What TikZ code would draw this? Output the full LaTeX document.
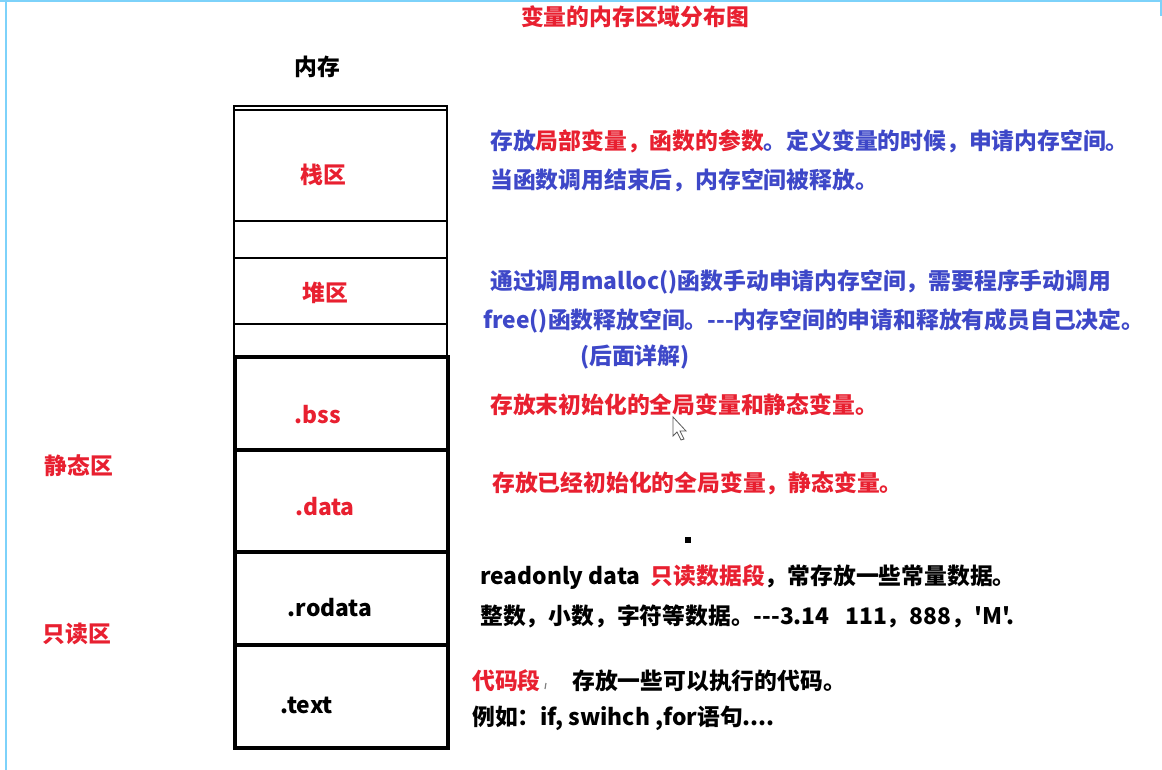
\documentclass[tikz,border=0pt]{standalone}
\usepackage{fontspec}
\newfontfamily\cjk{Noto Sans CJK SC}
\usetikzlibrary{positioning}
\definecolor{hongse}{RGB}{232,32,48}
\definecolor{lanse}{RGB}{62,72,200}
\definecolor{qianlan}{RGB}{125,210,250}
\pgfkeys{/tikz/.cd,
    overall style/.style={
        x=1pt, y=-1pt,        % 1pt = 1 像素
        line join=miter
    },
    big font/.style={font=\cjk\bfseries\fontsize{22.8}{27}\selectfont},
    region box/.style={draw, line width=2.4pt},
    low box/.style={draw, line width=3.2pt},
    region text/.style={big font, inner sep=0pt},
    note/.style={big font, anchor=west, inner sep=0pt}
}

\begin{document}
\begin{tikzpicture}[overall style]

    % --- 0. 画布和截图边框 ---
    \useasboundingbox (0,0) rectangle (1162,770);
    \draw[qianlan, line width=2pt] (6,0) -- (6,770);
    \draw[qianlan, line width=1.5pt] (0,1) -- (1162,1);
    \draw[qianlan, line width=2pt] (1161,0) -- (1161,16);

    % --- 1. 标题 ---
    \node[region text, text=hongse] (title) at (635,17) {变量的内存区域分布图};
    \node[region text] (neicun) at (317,67) {内存};

    % --- 2. 内存分区方框 ---
    \foreach \top/\bot in {106/110, 110/221, 221/258, 258/324, 324/357} {
        \draw[region box] (234,\top) rectangle (447,\bot);
    }
    \foreach \top/\bot in {357/450, 450/552, 552/645, 645/748} {
        \draw[low box] (235,\top) rectangle (448,\bot);
    }

    \foreach \name/\x/\y/\col/\txt in {zhan/323/175/hongse/栈区, dui/325/293/hongse/堆区,
        bss/318/415/hongse/.bss, data/325/507/hongse/.data,
        rodata/330/608/black/.rodata, text/307/705/black/.text} {
        \node[region text, text=\col] (\name) at (\x,\y) {\txt};
    }

    % --- 3. 左侧分类 ---
    \node[region text, text=hongse] (jingtai) at (79,466) {静态区};
    \node[region text, text=hongse] (zhidu) at (77,634) {只读区};

    % --- 4. 右侧说明 ---
    \node[note, text=lanse] (zhanA) at (490,141)
        {存放\textcolor{hongse}{局部变量，函数的参数}。定义变量的时候，申请内存空间。};
    \node[note, text=lanse] (zhanB) at (490,180) {当函数调用结束后，内存空间被释放。};

    \node[note, text=lanse] (duiA) at (490,282) {通过调用malloc()函数手动申请内存空间，需要程序手动调用};
    \node[note, text=lanse] (duiB) at (483,321) {free()函数释放空间。---内存空间的申请和释放有成员自己决定。};
    \node[note, text=lanse] (duiC) at (580,357) {(后面详解)};

    \node[note, text=hongse] (bssA) at (490,405) {存放末初始化的全局变量和静态变量。};
    \node[note, text=hongse] (dataA) at (492,483) {存放已经初始化的全局变量，静态变量。};

    \node[note] (roA) at (480,577) {readonly data\ \ \textcolor{hongse}{只读数据段}，常存放一些常量数据。};
    \node[note] (roB) at (480,616) {整数，小数，字符等数据。---3.14\ \ \ 111，888，'M'.};

    \node[note, text=hongse] (textA) at (472,681) {代码段};
    \node[note] (textB) at (572,681) {存放一些可以执行的代码。};
    \node[note] (textC) at (472,718) {例如：if, swihch ,for语句....};

    % --- 5. 零碎标记 ---
    \fill (685,537) rectangle (691,543);
    \draw[gray, line width=1.2pt] (546,683) -- (545,689);
    \draw[fill=white, draw=gray!70!black, line width=0.8pt]
        (673,417) -- (673,436) -- (677,432) -- (681,440) -- (684,439)
        -- (680,431) -- (686,431) -- cycle;

\end{tikzpicture}
\end{document}
